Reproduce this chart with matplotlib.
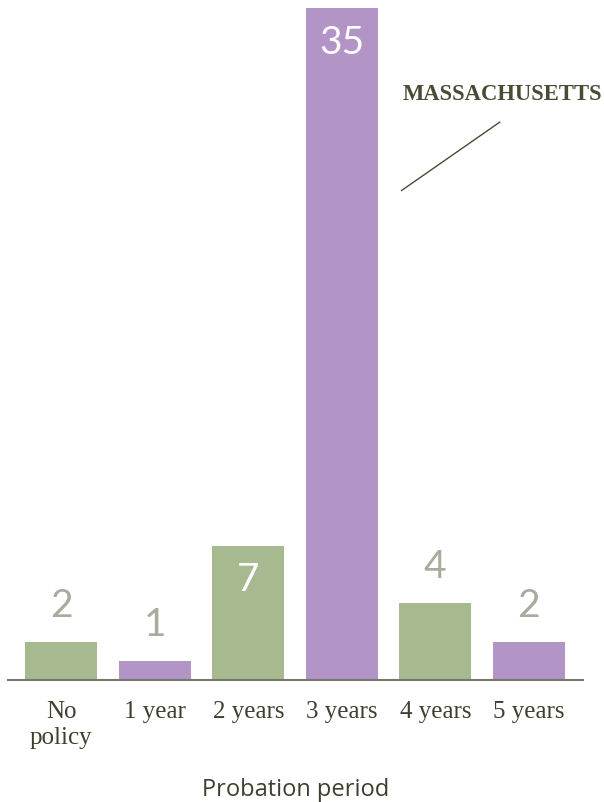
import matplotlib
matplotlib.use("Agg")
import matplotlib.pyplot as plt

periods = ["No\npolicy", "1 year", "2 years", "3 years", "4 years", "5 years"]
states = [2, 1, 7, 35, 4, 2]
colors = ["#a6b98f", "#b394c6", "#a6b98f", "#b394c6", "#a6b98f", "#b394c6"]
inside = [False, False, True, True, False, False]

fig = plt.figure(figsize=(6.04, 8.02), dpi=100)
ax = fig.add_axes([8 / 604, 122 / 802, 575 / 604, 680 / 802])

x = list(range(len(periods)))
ax.bar(x, states, width=0.77, color=colors)

for i, v in enumerate(states):
    if inside[i]:
        ax.annotate(str(v), (i, v), xytext=(0, -12), textcoords="offset points",
                    ha="center", va="top", fontsize=28, color="white",
                    family=["Lato", "DejaVu Sans"])
    else:
        ax.annotate(str(v), (i, v), xytext=(0, 13), textcoords="offset points",
                    ha="center", va="bottom", fontsize=28, color="#a9ab9c",
                    family=["Lato", "DejaVu Sans"])

ax.set_xlim(-0.57, 5.58)
ax.set_ylim(0, 35.42)
ax.set_xticks(x)
ax.set_xticklabels(periods, family=["Liberation Serif"], fontsize=18,
                   color="#3f3f30", linespacing=1.25)
ax.tick_params(axis="x", length=0, pad=15)
ax.set_yticks([])
for s in ["top", "left", "right"]:
    ax.spines[s].set_visible(False)
ax.spines["bottom"].set_color("#77776a")
ax.spines["bottom"].set_linewidth(1.5)

ax.set_xlabel("Probation period", family=["Open Sans", "DejaVu Sans"],
              fontsize=17, color="#3f3f30", labelpad=21)

# callout for the 3-year bar
ax.plot([3.64, 4.69], [25.5, 29.06], color="#4a4a35", lw=1.0)
ax.text(3.65, 30.2, "MASSACHUSETTS", family=["Liberation Serif"],
        fontweight="bold", fontsize=16.3, color="#4a4a35", ha="left", va="baseline")

fig.savefig("out.png", dpi=100)
